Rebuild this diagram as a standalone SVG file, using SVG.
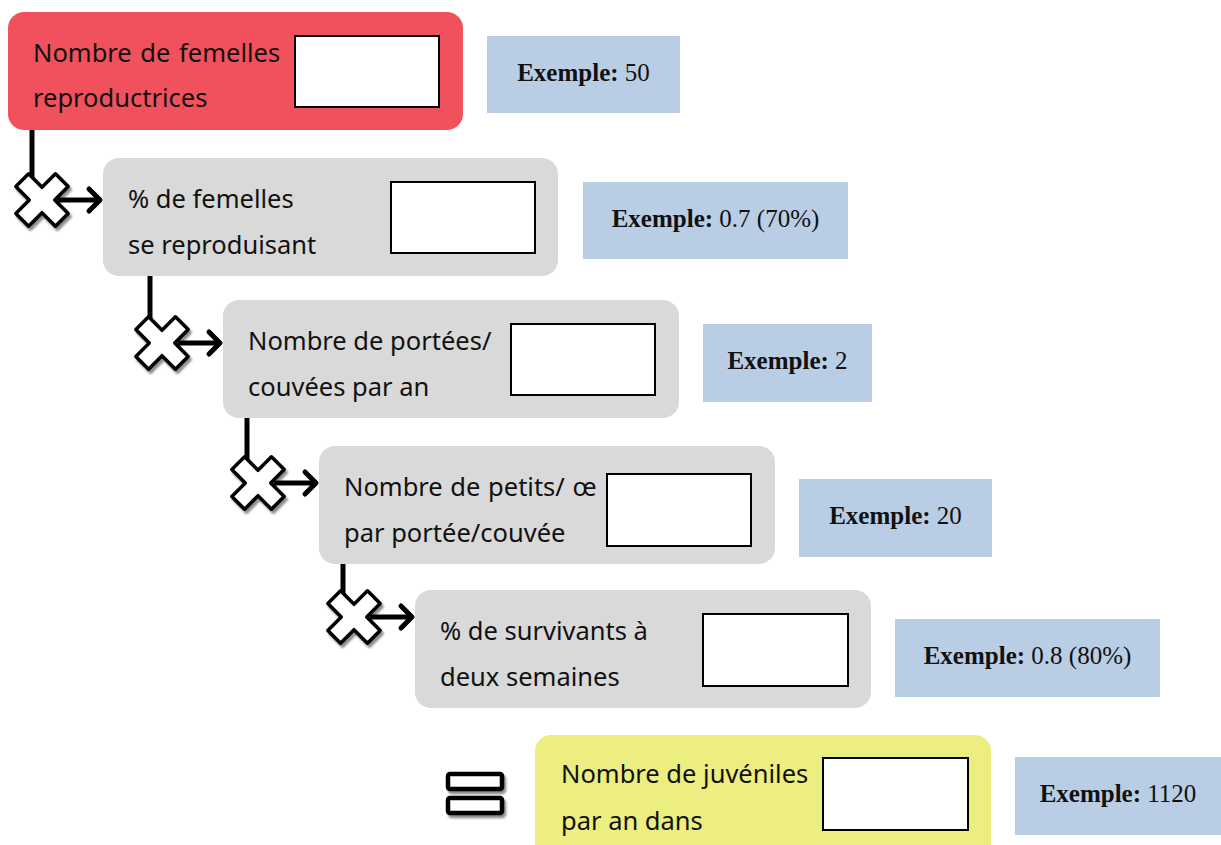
<svg xmlns="http://www.w3.org/2000/svg" width="1221" height="845" viewBox="0 0 1221 845">
<style>
.node{stroke:none}
.red{fill:#f1515c}
.grey{fill:#d9d9d9}
.yel{fill:#ecee80}
.inbox{fill:#ffffff;stroke:#000;stroke-width:2}
.lbl{font-family:"Noto Sans","Open Sans","DejaVu Sans",sans-serif;font-size:25.5px;fill:#111}
.ex{fill:#b9cde5}
.ext{font-family:"Liberation Serif","Times New Roman",serif;font-size:25px;fill:#111;text-anchor:middle}
.ext tspan.b{font-weight:bold}
.wire{fill:none;stroke:#000;stroke-width:5}
.arr{fill:none;stroke:#000;stroke-width:5;stroke-linecap:round;stroke-linejoin:round}
.xm{fill:#fff;stroke:#000;stroke-width:3.5;stroke-linejoin:round}
.eq{fill:#fff;stroke:#000;stroke-width:4.5}
</style>
<defs>
<filter id="sh" x="-30%" y="-30%" width="160%" height="160%">
<feDropShadow dx="2" dy="3" stdDeviation="1.2" flood-color="#000" flood-opacity="0.45"/>
</filter>
<path id="xmark" d="M-9,-28 L9,-28 L9,-9 L28,-9 L28,9 L9,9 L9,28 L-9,28 L-9,9 L-28,9 L-28,-9 L-9,-9 Z" transform="rotate(45)"/>
<path id="ahead" d="M-11,-11 L0,0 L-11,11"/>
</defs>

<g id="connectors">
<line class="wire" x1="32" y1="130" x2="32" y2="182"/>
<line class="wire" x1="58" y1="200" x2="98" y2="200"/>
<use href="#ahead" class="arr" x="100" y="200"/>
<use href="#xmark" class="xm" x="42" y="200" filter="url(#sh)"/>

<line class="wire" x1="150" y1="276" x2="150" y2="325"/>
<line class="wire" x1="178" y1="343" x2="218" y2="343"/>
<use href="#ahead" class="arr" x="220" y="343"/>
<use href="#xmark" class="xm" x="162" y="343" filter="url(#sh)"/>

<line class="wire" x1="247" y1="418" x2="247" y2="465"/>
<line class="wire" x1="274" y1="483" x2="314" y2="483"/>
<use href="#ahead" class="arr" x="316" y="483"/>
<use href="#xmark" class="xm" x="258" y="483" filter="url(#sh)"/>

<line class="wire" x1="343" y1="564" x2="343" y2="600"/>
<line class="wire" x1="370" y1="617" x2="410" y2="617"/>
<use href="#ahead" class="arr" x="412" y="617"/>
<use href="#xmark" class="xm" x="354" y="617" filter="url(#sh)"/>

<g id="equals" filter="url(#sh)">
<rect class="eq" x="448" y="774" width="54" height="15" rx="2"/>
<rect class="eq" x="448" y="798" width="54" height="15" rx="2"/>
</g>
</g>

<g id="n1">
<rect class="node red" x="8" y="12" width="455" height="118" rx="16"/>
<rect class="inbox" x="295" y="36" width="144" height="71"/>
<text class="lbl" x="33" y="62" word-spacing="2">Nombre de femelles</text>
<text class="lbl" x="33" y="107">reproductrices</text>
</g>
<g id="e1">
<rect class="ex" x="487" y="36" width="193" height="77"/>
<text class="ext" x="583.5" y="81"><tspan class="b">Exemple:</tspan> 50</text>
</g>

<g id="n2">
<rect class="node grey" x="103" y="158" width="455" height="118" rx="16"/>
<rect class="inbox" x="391" y="182" width="144" height="71"/>
<text class="lbl" x="128" y="208">% de femelles</text>
<text class="lbl" x="128" y="254">se reproduisant</text>
</g>
<g id="e2">
<rect class="ex" x="583" y="182" width="265" height="77"/>
<text class="ext" x="715.5" y="227"><tspan class="b">Exemple:</tspan> 0.7 (70%)</text>
</g>

<g id="n3">
<rect class="node grey" x="223" y="300" width="456" height="118" rx="16"/>
<rect class="inbox" x="511" y="324" width="144" height="71"/>
<text class="lbl" x="248" y="350">Nombre de portées/</text>
<text class="lbl" x="248" y="396">couvées par an</text>
</g>
<g id="e3">
<rect class="ex" x="703" y="324" width="169" height="78"/>
<text class="ext" x="787.5" y="369"><tspan class="b">Exemple:</tspan> 2</text>
</g>

<g id="n4">
<rect class="node grey" x="319" y="446" width="456" height="118" rx="16"/>
<rect class="inbox" x="607" y="474" width="144" height="72"/>
<text class="lbl" x="344" y="496" word-spacing="1">Nombre de petits/ œ</text>
<text class="lbl" x="344" y="542">par portée/couvée</text>
</g>
<g id="e4">
<rect class="ex" x="799" y="479" width="193" height="78"/>
<text class="ext" x="895.5" y="524"><tspan class="b">Exemple:</tspan> 20</text>
</g>

<g id="n5">
<rect class="node grey" x="415" y="590" width="456" height="118" rx="16"/>
<rect class="inbox" x="703" y="614" width="145" height="72"/>
<text class="lbl" x="440" y="640">% de survivants à</text>
<text class="lbl" x="440" y="686">deux semaines</text>
</g>
<g id="e5">
<rect class="ex" x="895" y="619" width="265" height="78"/>
<text class="ext" x="1027.5" y="664"><tspan class="b">Exemple:</tspan> 0.8 (80%)</text>
</g>

<g id="n6">
<rect class="node yel" x="535" y="735" width="456" height="130" rx="16"/>
<rect class="inbox" x="823" y="758" width="145" height="72"/>
<text class="lbl" x="561" y="783">Nombre de juvéniles</text>
<text class="lbl" x="561" y="830">par an dans</text>
</g>
<g id="e6">
<rect class="ex" x="1015" y="757" width="206" height="78"/>
<text class="ext" x="1118" y="802"><tspan class="b">Exemple:</tspan> 1120</text>
</g>
</svg>
